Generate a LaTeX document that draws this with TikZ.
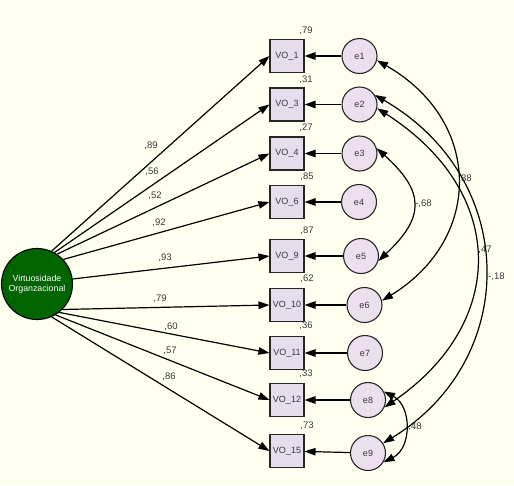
\documentclass[tikz,border=0pt]{standalone}
\usepackage{fontspec}
\setmainfont{Liberation Sans}
\usetikzlibrary{arrows.meta}
\definecolor{bg}{RGB}{255,255,240}
\definecolor{boxfill}{RGB}{230,222,236}
\definecolor{efill}{RGB}{236,224,238}
\definecolor{latgreen}{RGB}{0,100,0}
\definecolor{txt}{RGB}{55,55,55}
\begin{document}
\begin{tikzpicture}[x=1pt,y=-1pt,
  obs/.style={draw=black!85, line width=1.1pt, fill=boxfill, minimum width=34pt, minimum height=33pt, inner sep=0pt, font=\fontsize{9}{10}\selectfont, text=txt},
  err/.style={circle, draw=black!85, line width=1.1pt, fill=efill, minimum size=35pt, inner sep=0pt, font=\fontsize{9}{10}\selectfont, text=txt},
  lat/.style={circle, draw=black, line width=1.1pt, fill=latgreen, minimum size=71pt, inner sep=0pt, text=white, font=\fontsize{8.8}{10.5}\selectfont, align=center},
  lbl/.style={font=\fontsize{9.5}{10}\selectfont, text=txt, inner sep=0pt},
  arr/.style={line width=1.2pt, -{Triangle[length=11pt,width=7.5pt]}},
  cov/.style={line width=1.2pt, {Triangle[length=11pt,width=7.5pt]}-{Triangle[length=11pt,width=7.5pt]}},
]
\fill[bg] (0,0) rectangle (514,485);
\useasboundingbox (0,0) rectangle (514,485);

% latent
\node[lat] (V) at (37,284) {Virtuosidade\\Organzacional};

% observed
\node[obs] (v1) at (287,56) {VO\_1};
\node[obs] (v3) at (287,104.5) {VO\_3};
\node[obs] (v4) at (287,153.5) {VO\_4};
\node[obs] (v6) at (287,202) {VO\_6};
\node[obs] (v9) at (287,256) {VO\_9};
\node[obs] (v10) at (287,305) {VO\_10};
\node[obs] (v11) at (287,353) {VO\_11};
\node[obs] (v12) at (287,400) {VO\_12};
\node[obs] (v15) at (287,451) {VO\_15};

% errors
\node[err] (e1) at (359.5,56) {e1};
\node[err] (e2) at (359.5,104.5) {e2};
\node[err] (e3) at (359.5,153.5) {e3};
\node[err] (e4) at (359,202) {e4};
\node[err] (e5) at (361,256) {e5};
\node[err] (e6) at (364.5,305) {e6};
\node[err] (e7) at (365,353) {e7};
\node[err] (e8) at (368,400) {e8};
\node[err] (e9) at (368,453) {e9};

% R2 labels
\node[lbl] (r1) at (306,31) {,79};
\node[lbl] (r3) at (306,80) {,31};
\node[lbl] (r4) at (306,128) {,27};
\node[lbl] (r6) at (307,177) {,85};
\node[lbl] (r9) at (307,231) {,87};
\node[lbl] (r10) at (307,279) {,62};
\node[lbl] (r11) at (306,326) {,36};
\node[lbl] (r12) at (306,374) {,33};
\node[lbl] (r15) at (307,426) {,73};

% loadings
\draw[arr] (V.66) -- (v1.west);
\draw[arr] (V.61) -- (v3.west);
\draw[arr] (V.56) -- (v4.west);
\draw[arr] (V.43) -- (v6.west);
\draw[arr] (V.8) -- (v9.west);
\draw[arr] (V.-45) -- (v10.west);
\draw[arr] (V.-52) -- (v11.west);
\draw[arr] (V.-59) -- (v12.west);
\draw[arr] (V.-66) -- (v15.west);

\node[lbl] (l1) at (151,146) {,89};
\node[lbl] (l3) at (152,172) {,56};
\node[lbl] (l4) at (155,196) {,52};
\node[lbl] (l6) at (159,223) {,92};
\node[lbl] (l9) at (165,258) {,93};
\node[lbl] (l10) at (160,299) {,79};
\node[lbl] (l11) at (171,327) {,60};
\node[lbl] (l12) at (170,351) {,57};
\node[lbl] (l15) at (169,377) {,86};

% error paths
\draw[arr] (e1) -- (v1);
\draw[arr] (e2) -- (v3);
\draw[arr] (e3) -- (v4);
\draw[arr] (e4) -- (v6);
\draw[arr] (e5) -- (v9);
\draw[arr] (e6) -- (v10);
\draw[arr] (e7) -- (v11);
\draw[arr] (e8) -- (v12);
\draw[arr] (e9) -- (v15);

% covariances
\draw[cov] (e1.-14) .. controls (483,121) and (483,239) .. (e6.14);
\draw[cov] (e2.32) .. controls (520,179) and (520,360) .. (e9.33);
\draw[cov] (e2.-12) .. controls (508,192) and (508,323) .. (e8.-24);
\draw[cov] (e3.17) .. controls (425,192) and (425,217) .. (e5.-16);
\draw[cov] (e8.28) .. controls (412,406) and (412,448) .. (e9.-31);

\node[lbl] (c16) at (465,179) {,38};
\node[lbl] (c35) at (423.5,204) {-,68};
\node[lbl] (c28) at (485,250) {,47};
\node[lbl] (c29) at (496.5,277) {-,18};
\node[lbl] (c89) at (415,427) {,48};
\end{tikzpicture}
\end{document}
